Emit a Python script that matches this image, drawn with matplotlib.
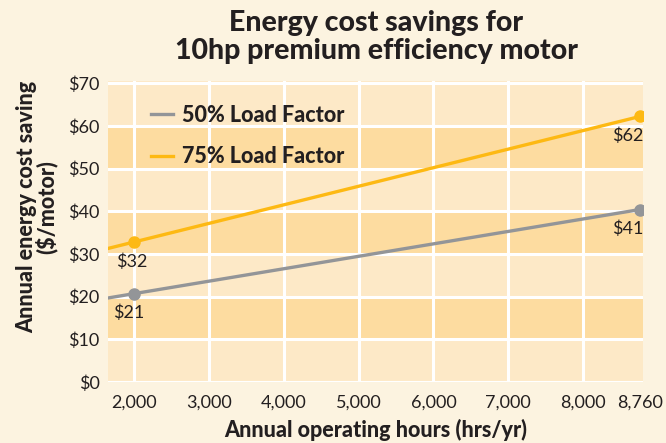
import matplotlib
matplotlib.use("Agg")
import matplotlib.pyplot as plt

plt.rcParams['font.family'] = ['Lato', 'DejaVu Sans']

# data
hours = [2000, 8760]
load50 = [20.7, 40.4]
load75 = [32.8, 62.2]
labels50 = ["$21", "$41"]
labels75 = ["$32", "$62"]
xticks = [2000, 3000, 4000, 5000, 6000, 7000, 8000, 8760]
xtick_labels = ["2,000", "3,000", "4,000", "5,000", "6,000", "7,000", "8,000", "8,760"]
yticks = [0, 10, 20, 30, 40, 50, 60, 70]

bg = "#fcf3e0"
band_light = "#fde9c7"
band_dark = "#fddca0"
gray = "#939598"
yellow = "#fdb913"
ink = "#231f20"

fig = plt.figure(figsize=(6.66, 4.43), dpi=100, facecolor=bg)
ax = fig.add_axes([108 / 666, 1 - 382 / 443, (643 - 108) / 666, (382 - 81) / 443])
ax.set_facecolor(band_light)
ax.set_xlim(1650, 8800)
ax.set_ylim(0, 70.5)

# alternating bands
for lo in range(10, 70, 20):
    ax.axhspan(lo, lo + 10, color=band_dark, lw=0, zorder=0)

# vertical grid at every tick except 8,760
ax.xaxis.remove_overlapping_locs = False
ax.set_xticks(xticks[:-1], minor=True)
ax.grid(True, which='minor', axis='x', color='white', lw=2.2)
ax.set_yticks(yticks)
ax.grid(True, which='major', axis='y', color='white', lw=2.2)
ax.set_xticks(xticks)
ax.set_xticklabels(xtick_labels)
ax.set_yticklabels([f"${v}" for v in yticks])
ax.tick_params(which='both', length=0, labelsize=13, colors=ink)
ax.tick_params(axis='x', pad=9)
ax.tick_params(axis='y', pad=6)
for s in ax.spines.values():
    s.set_visible(False)

# lines, extended to the left edge
for ys, col, lab in [(load50, gray, "50% Load Factor"), (load75, yellow, "75% Load Factor")]:
    ax.axline((hours[0], ys[0]), (hours[1], ys[1]), color=col, lw=2.4, zorder=3)
    ax.plot(hours, ys, 'o', color=col, ms=8, zorder=4)
    ax.plot([], [], color=col, lw=2.4, label=lab)

for ys, labs, dx0 in [(load50, labels50, -4), (load75, labels75, -1.5)]:
    ax.annotate(labs[0], (hours[0], ys[0]), xytext=(dx0, -14), textcoords='offset points',
                ha='center', va='center', fontsize=13, color=ink, zorder=5)
    ax.annotate(labs[1], (hours[1], ys[1]), xytext=(-8.5, -14), textcoords='offset points',
                ha='center', va='center', fontsize=13, color=ink, zorder=5)

leg = ax.legend(loc='upper left', bbox_to_anchor=(0.045, 0.985), frameon=False,
                prop={'weight': 'black', 'size': 15.5}, labelspacing=0.95,
                handlelength=1.0, handletextpad=0.4)
for t in leg.get_texts():
    t.set_color(ink)

fig.text(376 / 666, 1 - 37 / 443, "Energy cost savings for\n10hp premium efficiency motor",
         ha='center', va='center', fontsize=20.5, fontweight='black', color=ink,
         linespacing=1.05)
ax.set_xlabel("Annual operating hours (hrs/yr)", fontsize=15.5, fontweight='black',
              color=ink, labelpad=6)
fig.text(37 / 666, 1 - 207 / 443, "Annual energy cost saving\n($/motor)", rotation=90,
         ha='center', va='center', fontsize=15.5, fontweight='black', color=ink,
         linespacing=0.9)

fig.savefig("out.png", dpi=100, facecolor=bg)
